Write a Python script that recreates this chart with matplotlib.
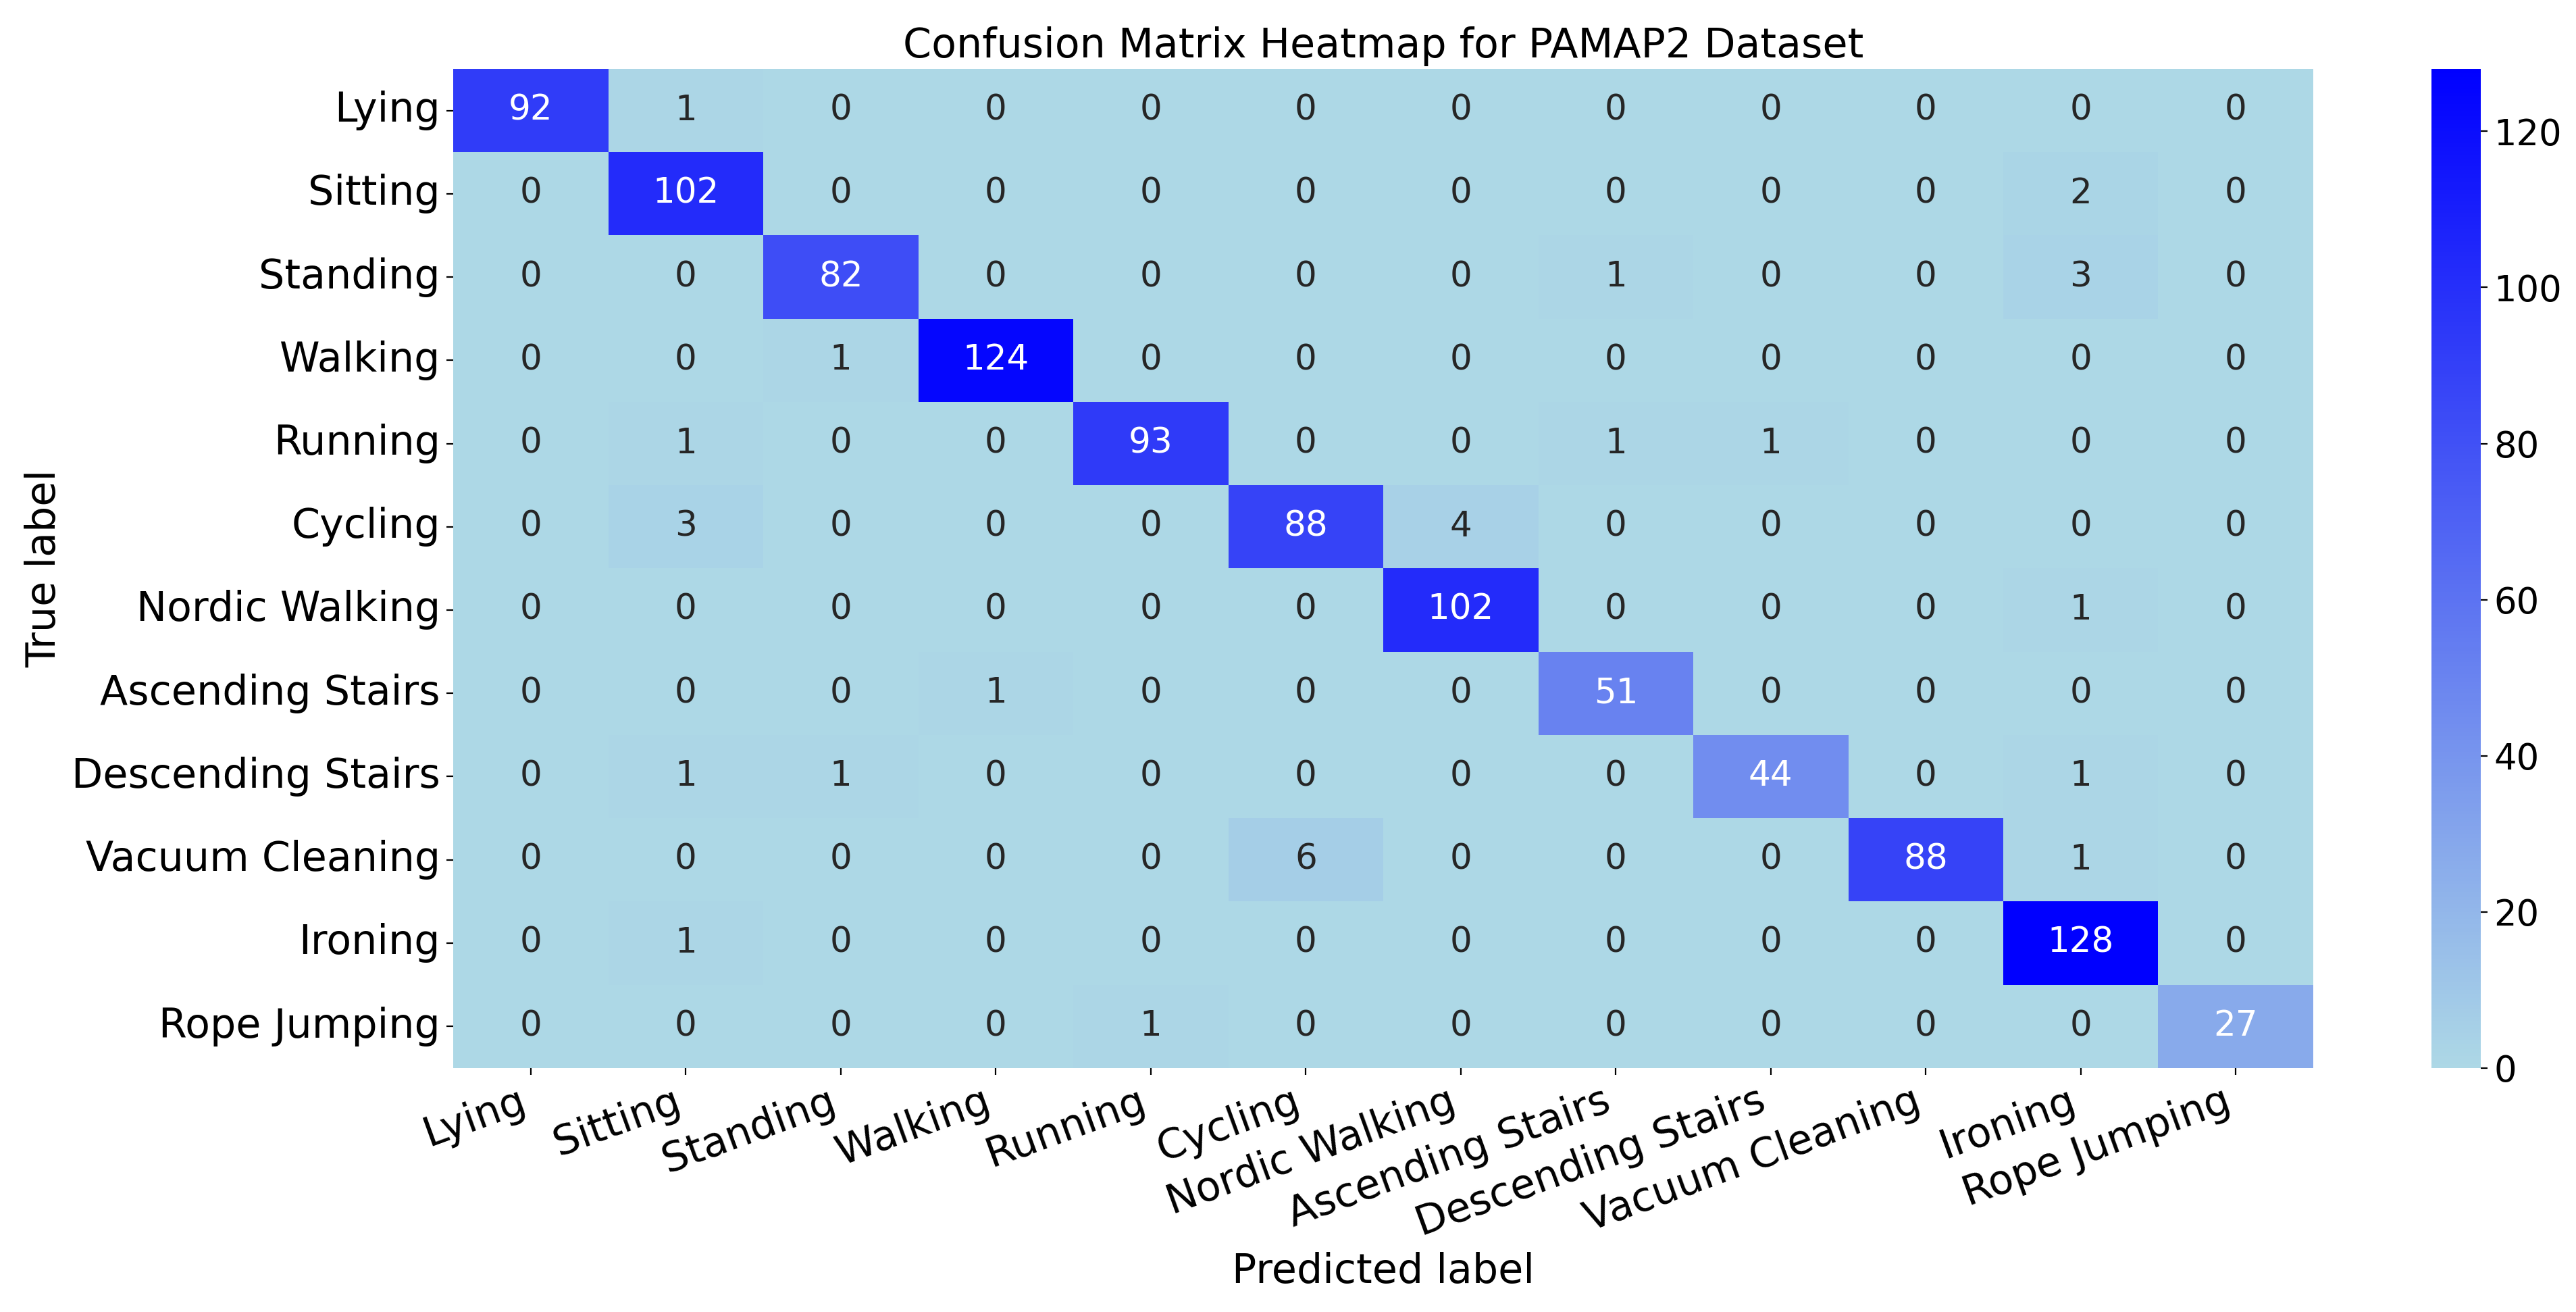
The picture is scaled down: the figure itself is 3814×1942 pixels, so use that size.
import numpy as np
import matplotlib
matplotlib.use("Agg")
import matplotlib.pyplot as plt
import seaborn as sns
from matplotlib.colors import LinearSegmentedColormap

labels = ["Lying", "Sitting", "Standing", "Walking", "Running", "Cycling",
          "Nordic Walking", "Ascending Stairs", "Descending Stairs",
          "Vacuum Cleaning", "Ironing", "Rope Jumping"]

row_lying = [92, 1, 0, 0, 0, 0, 0, 0, 0, 0, 0, 0]
row_sitting = [0, 102, 0, 0, 0, 0, 0, 0, 0, 0, 2, 0]
row_standing = [0, 0, 82, 0, 0, 0, 0, 1, 0, 0, 3, 0]
row_walking = [0, 0, 1, 124, 0, 0, 0, 0, 0, 0, 0, 0]
row_running = [0, 1, 0, 0, 93, 0, 0, 1, 1, 0, 0, 0]
row_cycling = [0, 3, 0, 0, 0, 88, 4, 0, 0, 0, 0, 0]
row_nordic = [0, 0, 0, 0, 0, 0, 102, 0, 0, 0, 1, 0]
row_asc = [0, 0, 0, 1, 0, 0, 0, 51, 0, 0, 0, 0]
row_desc = [0, 1, 1, 0, 0, 0, 0, 0, 44, 0, 1, 0]
row_vacuum = [0, 0, 0, 0, 0, 6, 0, 0, 0, 88, 1, 0]
row_ironing = [0, 1, 0, 0, 0, 0, 0, 0, 0, 0, 128, 0]
row_rope = [0, 0, 0, 0, 1, 0, 0, 0, 0, 0, 0, 27]

cm = np.array([row_lying, row_sitting, row_standing, row_walking, row_running,
               row_cycling, row_nordic, row_asc, row_desc, row_vacuum,
               row_ironing, row_rope])

cmap = LinearSegmentedColormap.from_list("lb", ["lightblue", "blue"])

fig = plt.figure(figsize=(19.07, 9.71), dpi=200)
ax = fig.add_axes([0.176, 0.186, 0.722, 0.7615])
cax = fig.add_axes([0.944, 0.186, 0.019, 0.7615])

sns.heatmap(cm, annot=True, fmt="d", cmap=cmap, ax=ax, cbar_ax=cax,
            xticklabels=labels, yticklabels=labels,
            annot_kws={"fontsize": 18.6})

ax.set_title("Confusion Matrix Heatmap for PAMAP2 Dataset", fontsize=21.7)
ax.set_xlabel("Predicted label", fontsize=21.7)
ax.set_ylabel("True label", fontsize=21.7)
ax.set_xticklabels(labels, rotation=20, ha="right", fontsize=21.7)
ax.set_yticklabels(labels, rotation=0, fontsize=21.7)
cax.tick_params(labelsize=19)

fig.savefig("out.png", dpi=200)
